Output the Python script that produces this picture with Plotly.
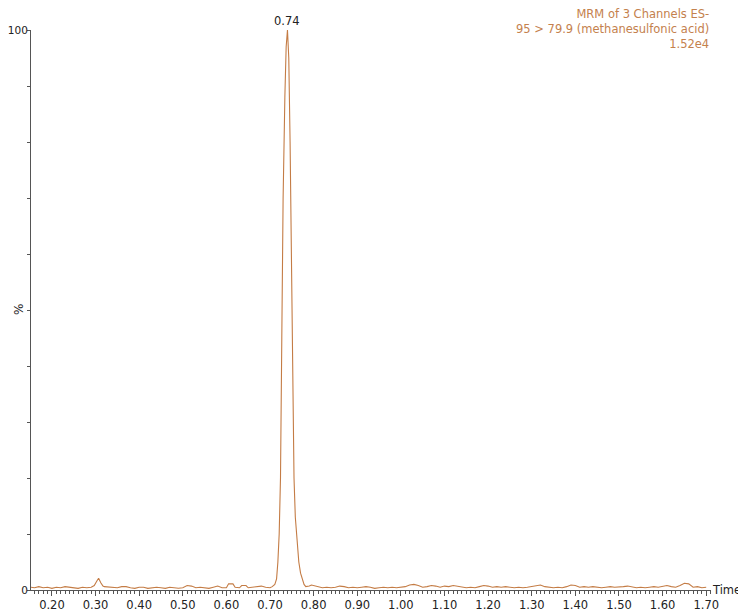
import plotly.graph_objects as go

# retention time (min) and relative intensity (%)
times = [0.15, 0.16, 0.17, 0.18, 0.19, 0.20, 0.21, 0.22, 0.23, 0.24, 0.25, 0.26, 0.27, 0.28, 0.29,
         0.297, 0.303, 0.307, 0.312, 0.317,
         0.32, 0.33, 0.34, 0.35, 0.36, 0.37, 0.38, 0.39, 0.40, 0.41, 0.42, 0.43, 0.44, 0.45, 0.46,
         0.47, 0.48, 0.49, 0.50, 0.51, 0.52, 0.53, 0.54, 0.55, 0.56, 0.57, 0.58, 0.59, 0.60, 0.605,
         0.615, 0.62, 0.63, 0.635, 0.645, 0.65, 0.66, 0.67, 0.68, 0.69, 0.70, 0.705,
         0.711, 0.715, 0.718, 0.721, 0.724, 0.727, 0.730, 0.734, 0.737, 0.740, 0.743, 0.746, 0.749,
         0.752, 0.755, 0.758, 0.762, 0.766, 0.770, 0.774, 0.778, 0.782,
         0.79, 0.795, 0.80, 0.81, 0.82, 0.83, 0.84, 0.85, 0.86, 0.87, 0.88, 0.89, 0.90, 0.91, 0.92,
         0.93, 0.94, 0.95, 0.96, 0.97, 0.98, 0.99, 1.00, 1.01, 1.02, 1.03, 1.04, 1.05, 1.06, 1.07,
         1.08, 1.09, 1.10, 1.11, 1.12, 1.13, 1.14, 1.15, 1.16, 1.17, 1.18, 1.19, 1.20, 1.21, 1.22,
         1.23, 1.24, 1.25, 1.26, 1.27, 1.28, 1.29, 1.30, 1.31, 1.32, 1.33, 1.34, 1.35, 1.36, 1.37,
         1.38, 1.39, 1.40, 1.41, 1.42, 1.43, 1.44, 1.45, 1.46, 1.47, 1.48, 1.49, 1.50, 1.51, 1.52,
         1.53, 1.54, 1.55, 1.56, 1.57, 1.58, 1.59, 1.60, 1.61, 1.62, 1.63, 1.64, 1.65, 1.66, 1.67,
         1.68, 1.69, 1.70]
intensity = [0.5, 0.4, 0.6, 0.4, 0.5, 0.3, 0.5, 0.4, 0.6, 0.5, 0.4, 0.3, 0.5, 0.4, 0.5,
             0.8, 1.6, 2.1, 1.3, 0.7,
             0.6, 0.5, 0.4, 0.4, 0.6, 0.6, 0.4, 0.3, 0.5, 0.5, 0.3, 0.4, 0.5, 0.4, 0.3,
             0.5, 0.4, 0.3, 0.4, 0.8, 0.7, 0.4, 0.5, 0.4, 0.3, 0.5, 0.7, 0.4, 0.4, 1.1,
             1.1, 0.5, 0.4, 0.8, 0.8, 0.4, 0.5, 0.7, 0.7, 0.5, 0.4, 0.6,
             1.0, 2.0, 5, 10, 20, 45, 70, 88, 97, 100, 95, 80, 62,
             38, 20, 13, 8, 5, 3, 1.8, 1.0, 0.6,
             0.7, 0.9, 0.8, 0.5, 0.4, 0.5, 0.4, 0.5, 0.7, 0.6, 0.4, 0.5, 0.4, 0.5, 0.6,
             0.5, 0.3, 0.4, 0.5, 0.4, 0.5, 0.4, 0.5, 0.6, 0.9, 1.0, 0.8, 0.5, 0.6, 0.8,
             0.7, 0.5, 0.7, 0.6, 0.8, 0.7, 0.5, 0.4, 0.5, 0.4, 0.6, 0.8, 0.7, 0.5, 0.6,
             0.5, 0.6, 0.5, 0.4, 0.5, 0.4, 0.5, 0.6, 0.8, 0.9, 0.6, 0.5, 0.4, 0.5, 0.4,
             0.6, 0.9, 0.8, 0.5, 0.6, 0.5, 0.6, 0.5, 0.4, 0.5, 0.6, 0.5, 0.5, 0.6, 0.7,
             0.5, 0.4, 0.5, 0.4, 0.5, 0.6, 0.5, 0.7, 0.8, 0.6, 0.5, 0.8, 1.2, 1.1, 0.5,
             0.6, 0.4, 0.5]

x_ticks = [0.20, 0.30, 0.40, 0.50, 0.60, 0.70, 0.80, 0.90, 1.00, 1.10, 1.20, 1.30, 1.40, 1.50, 1.60, 1.70]
x_labels = ["%.2f" % t for t in x_ticks]
peak_time = 0.74
header = ["MRM of 3 Channels ES-", "95 > 79.9 (methanesulfonic acid)", "1.52e4"]

trace_col = "#c47c45"
text_col = "#c4814d"
axis_col = "#555555"
font = "DejaVu Sans"

fig = go.Figure()
fig.add_trace(go.Scatter(x=times, y=intensity, mode="lines",
                         line=dict(color=trace_col, width=1.1), showlegend=False))

# page body adds an 8px offset, so the figure is a little smaller than the window
fig.update_layout(
    width=738, height=605,
    margin=dict(l=23, r=35, t=22, b=23, autoexpand=False),
    plot_bgcolor="white", paper_bgcolor="white",
    font=dict(family=font, size=11, color="#222222"),
    xaxis=dict(range=[0.152, 1.711], tickvals=x_ticks, ticktext=x_labels, automargin=False,
               showgrid=False, zeroline=False, showline=True, linecolor=axis_col, linewidth=1,
               ticks="outside", ticklen=5, tickcolor=axis_col, ticklabelstandoff=-1,
               minor=dict(dtick=0.01, tick0=0.0, ticks="outside", ticklen=3, tickcolor=axis_col),
               tickfont=dict(size=11.5)),
    yaxis=dict(range=[0, 100], tickvals=[0, 100], ticktext=["0", "100"], automargin=False,
               showgrid=False, zeroline=False, showline=True, linecolor=axis_col, linewidth=1,
               ticks="outside", ticklen=3, tickcolor=axis_col, ticklabelstandoff=-3,
               minor=dict(dtick=10, ticks="outside", ticklen=3, tickcolor=axis_col),
               tickfont=dict(size=10.5)),
)

fig.add_annotation(x=peak_time, y=100, text="%.2f" % peak_time, showarrow=False,
                   yanchor="bottom", font=dict(size=11.5, color="#222222"))
fig.add_annotation(x=1, y=1.05, xref="paper", yref="paper", text="<br>".join(header),
                   showarrow=False, xanchor="right", yanchor="top", align="right", yshift=-3,
                   font=dict(size=11.5, color=text_col))
fig.add_annotation(x=1, y=0, xref="paper", yref="paper", text="Time", showarrow=False,
                   xanchor="left", yanchor="middle", xshift=-1, font=dict(size=11.5, color="#222222"))
fig.add_annotation(x=0, y=0.5, xref="paper", yref="paper", text="%", showarrow=False,
                   textangle=-90, xanchor="right", xshift=-3, font=dict(size=12, color="#222222"))

fig.write_html("out.html")
